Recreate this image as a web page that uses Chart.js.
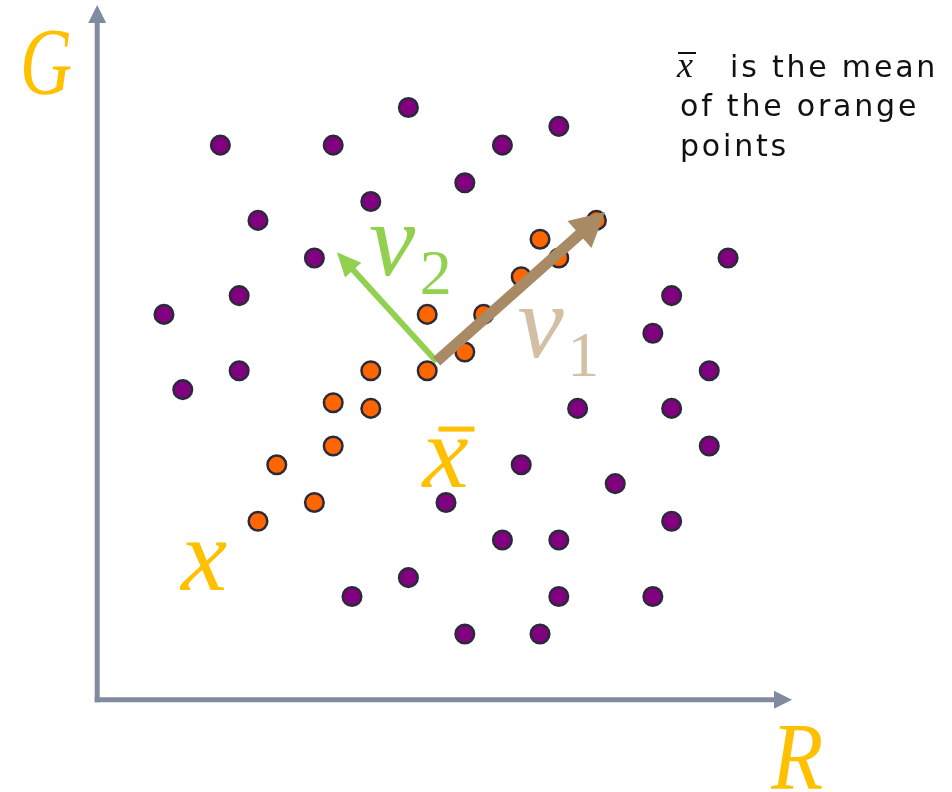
<!DOCTYPE html>
<html>
<head>
<meta charset="utf-8">
<script src="https://cdn.jsdelivr.net/npm/chart.js@4.4.1/dist/chart.umd.min.js"></script>
<style>
  html, body { margin: 0; padding: 0; background: #fff; }
  #wrap { width: 952px; height: 792px; }
</style>
</head>
<body>
<div id="wrap"><canvas id="pcaChart"></canvas></div>
<script>
// Points in R/G space (grid units)
const purpleX = [16, 24, 6, 12, 21, 19, 14, 8, 11, 33, 7, 30, 3, 29, 4, 7, 32, 25, 30, 32, 22, 27, 18, 30, 21, 24, 16, 13, 24, 29, 19, 23];
const purpleY = [31, 30, 29, 29, 29, 27, 26, 25, 23, 23, 21, 21, 20, 19, 16, 17, 17, 15, 15, 13, 12, 11, 10, 9, 8, 8, 6, 5, 5, 5, 3, 3];
const orangeX = [26, 23, 24, 22, 20, 17, 19, 17, 14, 12, 14, 12, 9, 11, 8];
const orangeY = [25, 24, 23, 22, 20, 20, 18, 17, 17, 15.3, 15, 13, 12, 10, 9];

// Mean point and the two direction vectors (tips)
const meanPt = [17.5, 17.5];
const v1Tip = [26.45, 25.45];
const v2Tip = [12.2, 23.3];

// Axis extents
const axisOrigin = [-0.55, -0.5];
const axisEndR = 36.4;
const axisEndG = 36.45;

const toPoints = (xs, ys) => xs.map((x, i) => ({ x: x, y: ys[i] }));

const axisColor = "#808ba0";
const labelColor = "#ffc000";

function arrow(ctx, x0, y0, x1, y1, lw, headLen, headHalf, color) {
  const ang = Math.atan2(y1 - y0, x1 - x0);
  const bx = x1 - headLen * Math.cos(ang);
  const by = y1 - headLen * Math.sin(ang);
  ctx.save();
  ctx.strokeStyle = color;
  ctx.fillStyle = color;
  ctx.lineWidth = lw;
  ctx.lineCap = "butt";
  ctx.beginPath();
  ctx.moveTo(x0, y0);
  ctx.lineTo(bx + Math.cos(ang) * 2, by + Math.sin(ang) * 2);
  ctx.stroke();
  ctx.beginPath();
  ctx.moveTo(x1, y1);
  ctx.lineTo(bx + headHalf * Math.sin(ang), by - headHalf * Math.cos(ang));
  ctx.lineTo(bx - headHalf * Math.sin(ang), by + headHalf * Math.cos(ang));
  ctx.closePath();
  ctx.fill();
  ctx.restore();
}

const decorations = {
  id: "decorations",
  beforeDatasetsDraw(chart) {
    const ctx = chart.ctx;
    const sx = chart.scales.x, sy = chart.scales.y;
    const ox = sx.getPixelForValue(axisOrigin[0]);
    const oy = sy.getPixelForValue(axisOrigin[1]);
    // G axis
    arrow(ctx, ox, oy + 2.5, ox, sy.getPixelForValue(axisEndG), 5, 18, 9, axisColor);
    // R axis
    arrow(ctx, ox - 2.5, oy, sx.getPixelForValue(axisEndR), oy, 5, 18, 9, axisColor);
  },
  afterDatasetsDraw(chart) {
    const ctx = chart.ctx;
    const sx = chart.scales.x, sy = chart.scales.y;
    const px = (v) => sx.getPixelForValue(v);
    const py = (v) => sy.getPixelForValue(v);
    const mx = px(meanPt[0]), my = py(meanPt[1]);
    arrow(ctx, mx, my, px(v2Tip[0]), py(v2Tip[1]), 6, 24, 11, "#92d050");
    arrow(ctx, mx, my, px(v1Tip[0]), py(v1Tip[1]), 11, 34, 18, "#a88b65");

    ctx.save();
    ctx.textAlign = "left";
    ctx.textBaseline = "alphabetic";
    const txt = (s, x, y, font, color, maxW) => {
      ctx.font = font;
      ctx.fillStyle = color;
      ctx.fillText(s, px(x), py(y), maxW);
    };
    const it = "italic 96px 'Liberation Serif'";
    const itSmall = "italic 104px 'Liberation Serif'";
    txt("G", -4.65, 31.7, it, labelColor, 52);
    txt("R", 35.3, -5.25, it, labelColor, 52);
    txt("x", 3.9, 5.35, itSmall, labelColor);
    txt("x", 16.75, 10.8, itSmall, labelColor);
    // bar over x
    ctx.fillStyle = labelColor;
    ctx.fillRect(px(17.6), py(13.9) - 2.5, 36, 5);
    txt("v", 13.9, 22.1, itSmall, "#92d050");
    txt("2", 16.6, 21.1, "64px 'Liberation Serif'", "#92d050");
    txt("v", 21.8, 17.75, itSmall, "#d2bfa5");
    txt("1", 24.45, 16.7, "64px 'Liberation Serif'", "#d2bfa5");

    // note in the upper right
    ctx.fillStyle = "#111";
    ctx.font = "italic 36px 'Liberation Serif'";
    ctx.fillText("x", 677, 77);
    ctx.fillRect(678, 52, 18, 2);
    ctx.font = "30px 'DejaVu Sans'";
    ctx.letterSpacing = "2.8px";
    ctx.fillText("is the mean", 730, 77);
    ctx.fillText("of the orange", 680, 116);
    ctx.fillText("points", 680, 156);
    ctx.restore();
  }
};

const pointStyle = {
  pointRadius: 9.3,
  pointBorderWidth: 2.5,
  pointBorderColor: "#2b2a3a",
  showLine: false,
};

new Chart(document.getElementById("pcaChart"), {
  type: "scatter",
  data: {
    datasets: [
      Object.assign({ label: "others", data: toPoints(purpleX, purpleY), pointBackgroundColor: "#800080" }, pointStyle),
      Object.assign({ label: "orange", data: toPoints(orangeX, orangeY), pointBackgroundColor: "#ff6600" }, pointStyle),
    ],
  },
  options: {
    responsive: true,
    maintainAspectRatio: false,
    animation: false,
    layout: { padding: 0, autoPadding: false },
    clip: false,
    plugins: { legend: { display: false }, tooltip: { enabled: false } },
    scales: {
      x: { type: "linear", display: false, min: -5.72, max: 44.91 },
      y: { type: "linear", display: false, min: -5.4, max: 36.72 },
    },
  },
  plugins: [decorations],
});
</script>
</body>
</html>
